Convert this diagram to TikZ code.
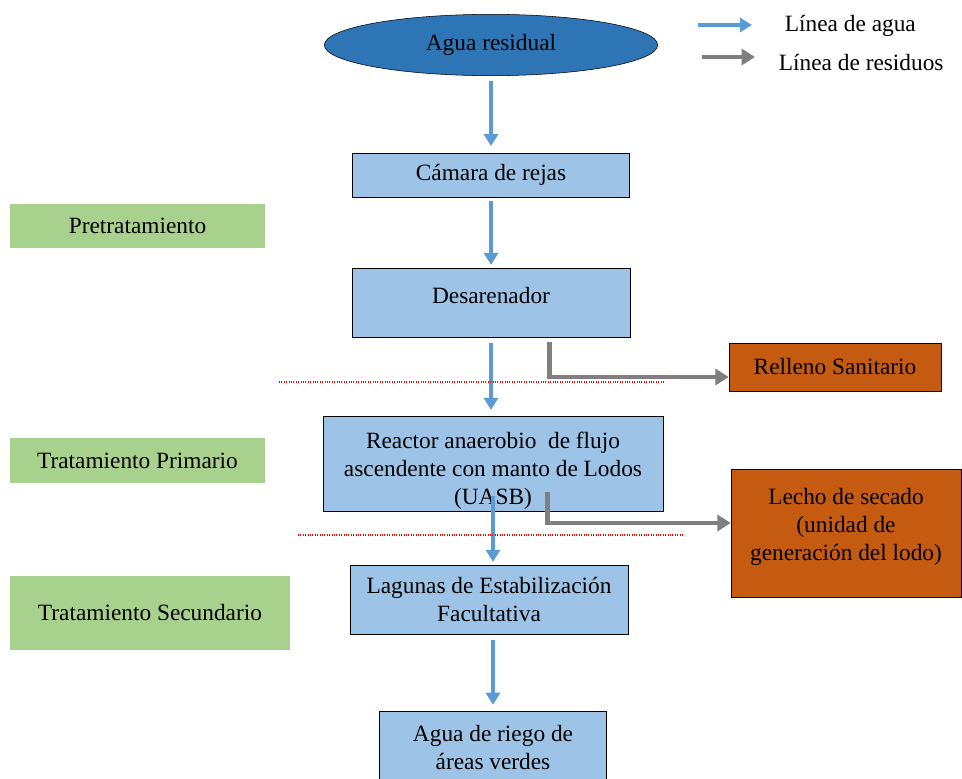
\documentclass[tikz,border=0pt]{standalone}
\usepackage{fontspec}
\setmainfont{Liberation Serif}
\usepackage{tikz}
\usetikzlibrary{positioning, arrows.meta, shapes.geometric}
\definecolor{azulosc}{HTML}{2E75B6}
\definecolor{azulcaja}{HTML}{9DC3E6}
\definecolor{azulflecha}{HTML}{5B9BD5}
\definecolor{verdeetapa}{HTML}{A9D18E}
\definecolor{naranja}{HTML}{C55A11}
\definecolor{grisflecha}{HTML}{7F7F7F}
\tikzset{
x=0.75pt, y=-0.75pt, % one unit is one pixel of the reference
every node/.style={font=\fontsize{17.5}{21}\selectfont, align=center, inner sep=2pt},
inicio/.style={ellipse, draw=black, fill=azulosc, minimum width=250pt, minimum height=46pt}, % the start of the line
proceso/.style={rectangle, draw=black, fill=azulcaja}, % a treatment unit
etapa/.style={rectangle, fill=verdeetapa}, % the name of a stage, on the left
destino/.style={rectangle, draw=black, fill=naranja}, % where the waste goes
agua/.style={draw=azulflecha, line width=3pt, -{Triangle[width=10.5pt, length=9pt]}}, % water line
residuo/.style={draw=grisflecha, line width=3.5pt, -{Triangle[width=12pt, length=10pt]}}, % waste line
separador/.style={draw=red, densely dotted, line width=0.8pt}, % limit between stages
}

\begin{document}
\begin{tikzpicture}
\useasboundingbox (0,0) rectangle (962,778);

% main line
\node[inicio] (residual) at (491,45) {Agua residual};
\node[proceso, minimum width=208pt, minimum height=33pt] (camara) at (491,175) {Cámara de rejas};
\node[proceso, minimum width=208.5pt, minimum height=52pt] (desarenador) at (491,302.5) {Desarenador\\[-10pt]};
\node[proceso, minimum width=255pt, minimum height=71pt] (reactor) at (493,463.5) {Reactor anaerobio ~de flujo\\ascendente con manto de Lodos\\(UASB)\\[-28.5pt]};
\node[proceso, minimum width=208.5pt, minimum height=52pt] (lagunas) at (489,599.5) {Lagunas de Estabilización\\Facultativa};
\node[proceso, minimum width=170pt, minimum height=60pt] (riego) at (493,751) {Agua de riego de\\áreas verdes\\[-15pt]};

% stages
\node[etapa, minimum width=191pt, minimum height=33pt] (pre) at (137.5,226) {Pretratamiento};
\node[etapa, minimum width=191pt, minimum height=34pt] (primario) at (137.5,460.5) {Tratamiento Primario};
\node[etapa, minimum width=210pt, minimum height=55.5pt] (secundario) at (150,613) {Tratamiento Secundario};

% waste
\node[destino, minimum width=159pt, minimum height=36pt] (relleno) at (835,367) {Relleno Sanitario};
\node[destino, minimum width=172.5pt, minimum height=96pt] (lecho) at (846,533) {Lecho de secado\\(unidad de\\generación del lodo)\\[-8pt]};

% legend
\coordinate (la1) at (698,25);
\coordinate (la2) at (752,25);
\coordinate (lr1) at (702,57);
\coordinate (lr2) at (755,57);
\node[anchor=west] (lagua) at (782,26) {Línea de agua};
\node[anchor=west] (lres) at (776,63) {Línea de residuos};
\draw[agua] (la1) -- (la2);
\draw[residuo] (lr1) -- (lr2);

\draw[agua, shorten <=4pt, shorten >=5pt] (residual) -- (camara);
\draw[agua, shorten <=3pt, shorten >=2pt] (camara) -- (desarenador);
\draw[agua, shorten <=4pt, shorten >=4.5pt] (desarenador.south) -- (desarenador.south |- reactor.north);
\draw[agua, shorten >=2pt] ([yshift=11pt]reactor.south) -- (reactor.south |- lagunas.north);
\draw[agua, shorten <=4.5pt, shorten >=4.5pt] (reactor.south |- lagunas.south) -- (riego);

\draw[residuo] ([xshift=44pt, yshift=-3.5pt]desarenador.south) |- ([yshift=-7.5pt]relleno.west);
\draw[residuo] ([xshift=41pt, yshift=14pt]reactor.south) |- ([yshift=7.5pt]lecho.west);

% limits between stages
\draw[separador] (279,382) -- (665,382);
\draw[separador] (298,535) -- (683,535);
\end{tikzpicture}
\end{document}
